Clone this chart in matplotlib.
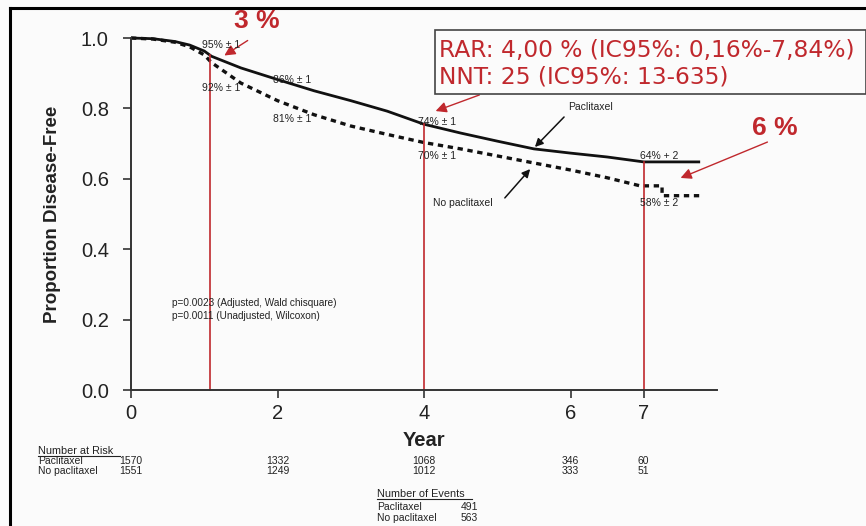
import numpy as np
import matplotlib
matplotlib.use("Agg")
import matplotlib.pyplot as plt
from matplotlib.lines import Line2D
from matplotlib.patches import Rectangle
import matplotlib.transforms as mtransforms

# ---------------- data ----------------
t_pac = [0, 0.3, 0.6, 0.8, 1.0, 1.1, 1.5, 2.0, 2.5, 3.0, 3.5, 4.0, 4.5, 5.0, 5.5, 6.0, 6.5, 7.0, 7.77]
s_pac = [1.0, 0.998, 0.99, 0.98, 0.963, 0.948, 0.915, 0.882, 0.85, 0.822, 0.792, 0.755, 0.73, 0.707, 0.685, 0.673, 0.662, 0.648, 0.648]

t_nopac = [0, 0.3, 0.6, 0.8, 1.0, 1.1, 1.5, 2.0, 2.5, 3.0, 3.5, 4.0, 4.5, 5.0, 5.5, 6.0, 6.5, 6.95, 7.25, 7.25, 7.77]
s_nopac = [1.0, 0.997, 0.988, 0.975, 0.952, 0.93, 0.872, 0.822, 0.782, 0.75, 0.726, 0.703, 0.685, 0.665, 0.645, 0.625, 0.603, 0.58, 0.58, 0.552, 0.552]

xticks = [0, 2, 4, 6, 7]
yticks = [0.0, 0.2, 0.4, 0.6, 0.8, 1.0]

marked_years = [1.08, 4.0, 7.0]

pct_labels = ["95% ± 1", "92% ± 1", "86% ± 1", "81% ± 1", "74% ± 1", "70% ± 1", "64% + 2", "58% ± 2"]
pct_label_px = [(202, 45), (202, 88), (273, 80), (273, 119), (418, 122), (418, 156), (640, 156), (640, 203)]

risk_years = [0, 2, 4, 6, 7]
risk_pac = [1570, 1332, 1068, 346, 60]
risk_nopac = [1551, 1249, 1012, 333, 51]

event_groups = ["Paclitaxel", "No paclitaxel"]
event_counts = [491, 563]

rar_text = "RAR: 4,00 % (IC95%: 0,16%-7,84%)"
nnt_text = "NNT: 25 (IC95%: 13-635)"

# ---------------- figure ----------------
W, H = 866, 526
fig = plt.figure(figsize=(W / 100, H / 100), dpi=100, facecolor="#fbfbfb")
plt.rcParams["font.family"] = ["Liberation Sans", "DejaVu Sans"]


def px(x, y):
    return (x / W, 1 - y / H)


ax_l, ax_r, ax_t, ax_b = 131, 717, 38, 390
ax = fig.add_axes([ax_l / W, 1 - ax_b / H, (ax_r - ax_l) / W, (ax_b - ax_t) / H])
ax.set_facecolor("none")
ax.set_xlim(0, 8.0)
ax.set_ylim(0, 1.0)

ax.plot(t_pac, s_pac, color="#111111", lw=2.0, clip_on=False, solid_capstyle="butt")
ax.plot(t_nopac, s_nopac, color="#111111", lw=2.4, linestyle=(0, (1.6, 1.4)), clip_on=False)

for s in ["top", "right"]:
    ax.spines[s].set_visible(False)
for s in ["left", "bottom"]:
    ax.spines[s].set_color("#333333")
    ax.spines[s].set_linewidth(1.4)

ax.set_xticks(xticks)
ax.set_xticklabels([str(v) for v in xticks], fontsize=14.5, color="#222222")
ax.set_yticks(yticks)
ax.set_yticklabels([f"{v:.1f}" for v in yticks], fontsize=14.5, color="#222222")
ax.tick_params(axis="both", direction="out", length=6, width=1.2, color="#333333")
ax.tick_params(axis="y", pad=10)
ax.tick_params(axis="x", pad=4)

ax.set_ylabel("Proportion Disease-Free", fontsize=13.5, fontweight="bold", color="#222222", labelpad=14)
ax.set_xlabel("Year", fontsize=14.5, fontweight="bold", color="#222222", labelpad=6)

red = "#c0282d"
# red vertical lines from the paclitaxel curve down to the axis
for yr in marked_years:
    top = np.interp(yr, t_pac, s_pac)
    ax.plot([yr, yr], [0, top], color=red, lw=1.2, clip_on=False)

# percentage labels
for lab, (x, y) in zip(pct_labels, pct_label_px):
    fig.text(*px(x, y), lab, fontsize=7.5, ha="left", va="center", color="#222222")

# p-values
fig.text(*px(172, 303), "p=0.0023 (Adjusted, Wald chisquare)", fontsize=7.2, ha="left", va="center", color="#222222")
fig.text(*px(172, 316), "p=0.0011 (Unadjusted, Wilcoxon)", fontsize=7.2, ha="left", va="center", color="#222222")

# curve labels with arrows
fig.text(*px(568, 107), "Paclitaxel", fontsize=7.5, ha="left", va="center", color="#222222")
fig.text(*px(433, 203), "No paclitaxel", fontsize=7.5, ha="left", va="center", color="#222222")
ax.annotate("", xy=px(533, 149), xytext=px(566, 115), xycoords="figure fraction", textcoords="figure fraction",
            arrowprops=dict(arrowstyle="-|>", color="#111111", lw=1.1, mutation_scale=12))
ax.annotate("", xy=px(532, 167), xytext=px(503, 200), xycoords="figure fraction", textcoords="figure fraction",
            arrowprops=dict(arrowstyle="-|>", color="#111111", lw=1.1, mutation_scale=12))

# red annotations
fig.text(*px(257, 21), "3 %", fontsize=19, fontweight="bold", color=red, ha="center", va="center")
fig.text(*px(775, 128), "6 %", fontsize=19, fontweight="bold", color=red, ha="center", va="center")
ax.annotate("", xy=px(222, 57), xytext=px(250, 39), xycoords="figure fraction", textcoords="figure fraction",
            arrowprops=dict(arrowstyle="-|>", color=red, lw=1.0, mutation_scale=16))
ax.annotate("", xy=px(678, 179), xytext=px(770, 141), xycoords="figure fraction", textcoords="figure fraction",
            arrowprops=dict(arrowstyle="-|>", color=red, lw=1.0, mutation_scale=16))
ax.annotate("", xy=px(433, 112), xytext=px(482, 94), xycoords="figure fraction", textcoords="figure fraction",
            arrowprops=dict(arrowstyle="-|>", color=red, lw=1.0, mutation_scale=16))

# RAR / NNT box
box = Rectangle(px(435, 94), (866 - 435) / W, (94 - 30) / H, transform=fig.transFigure,
                facecolor="#fbfbfb", edgecolor="#444444", lw=1.2)
fig.add_artist(box)
fig.text(*px(439, 50), rar_text, fontsize=16.8, color=red, ha="left", va="center", family="DejaVu Sans")
fig.text(*px(439, 77), nnt_text, fontsize=16.8, color=red, ha="left", va="center", family="DejaVu Sans")

# number at risk table
blend = mtransforms.blended_transform_factory(ax.transData, fig.transFigure)
fig.text(*px(38, 451), "Number at Risk", fontsize=7.8, ha="left", va="center", color="#222222")
fig.add_artist(Line2D([38 / W, 120 / W], [1 - 456 / H] * 2, color="#222222", lw=0.8))
fig.text(*px(38, 461), "Paclitaxel", fontsize=7.5, ha="left", va="center", color="#222222")
fig.text(*px(38, 471), "No paclitaxel", fontsize=7.5, ha="left", va="center", color="#222222")
for yr, a, b in zip(risk_years, risk_pac, risk_nopac):
    fig.text(yr, 1 - 461 / H, str(a), transform=blend, fontsize=7.5, ha="center", va="center", color="#222222")
    fig.text(yr, 1 - 471 / H, str(b), transform=blend, fontsize=7.5, ha="center", va="center", color="#222222")

# number of events
fig.text(*px(377, 494), "Number of Events", fontsize=7.8, ha="left", va="center", color="#222222")
fig.add_artist(Line2D([377 / W, 472 / W], [1 - 499 / H] * 2, color="#222222", lw=0.8))
for i, (g, c) in enumerate(zip(event_groups, event_counts)):
    yy = 507 + 11 * i
    fig.text(*px(377, yy), g, fontsize=7.5, ha="left", va="center", color="#222222")
    fig.text(*px(461, yy), str(c), fontsize=7.5, ha="left", va="center", color="#222222")

# outer frame (left and top)
fig.add_artist(Line2D([10 / W, 10 / W], [0, 1 - 8 / H], color="black", lw=2.2))
fig.add_artist(Line2D([10 / W, 1], [1 - 8 / H] * 2, color="black", lw=2.2))

fig.savefig("out.png", dpi=100, facecolor=fig.get_facecolor())
